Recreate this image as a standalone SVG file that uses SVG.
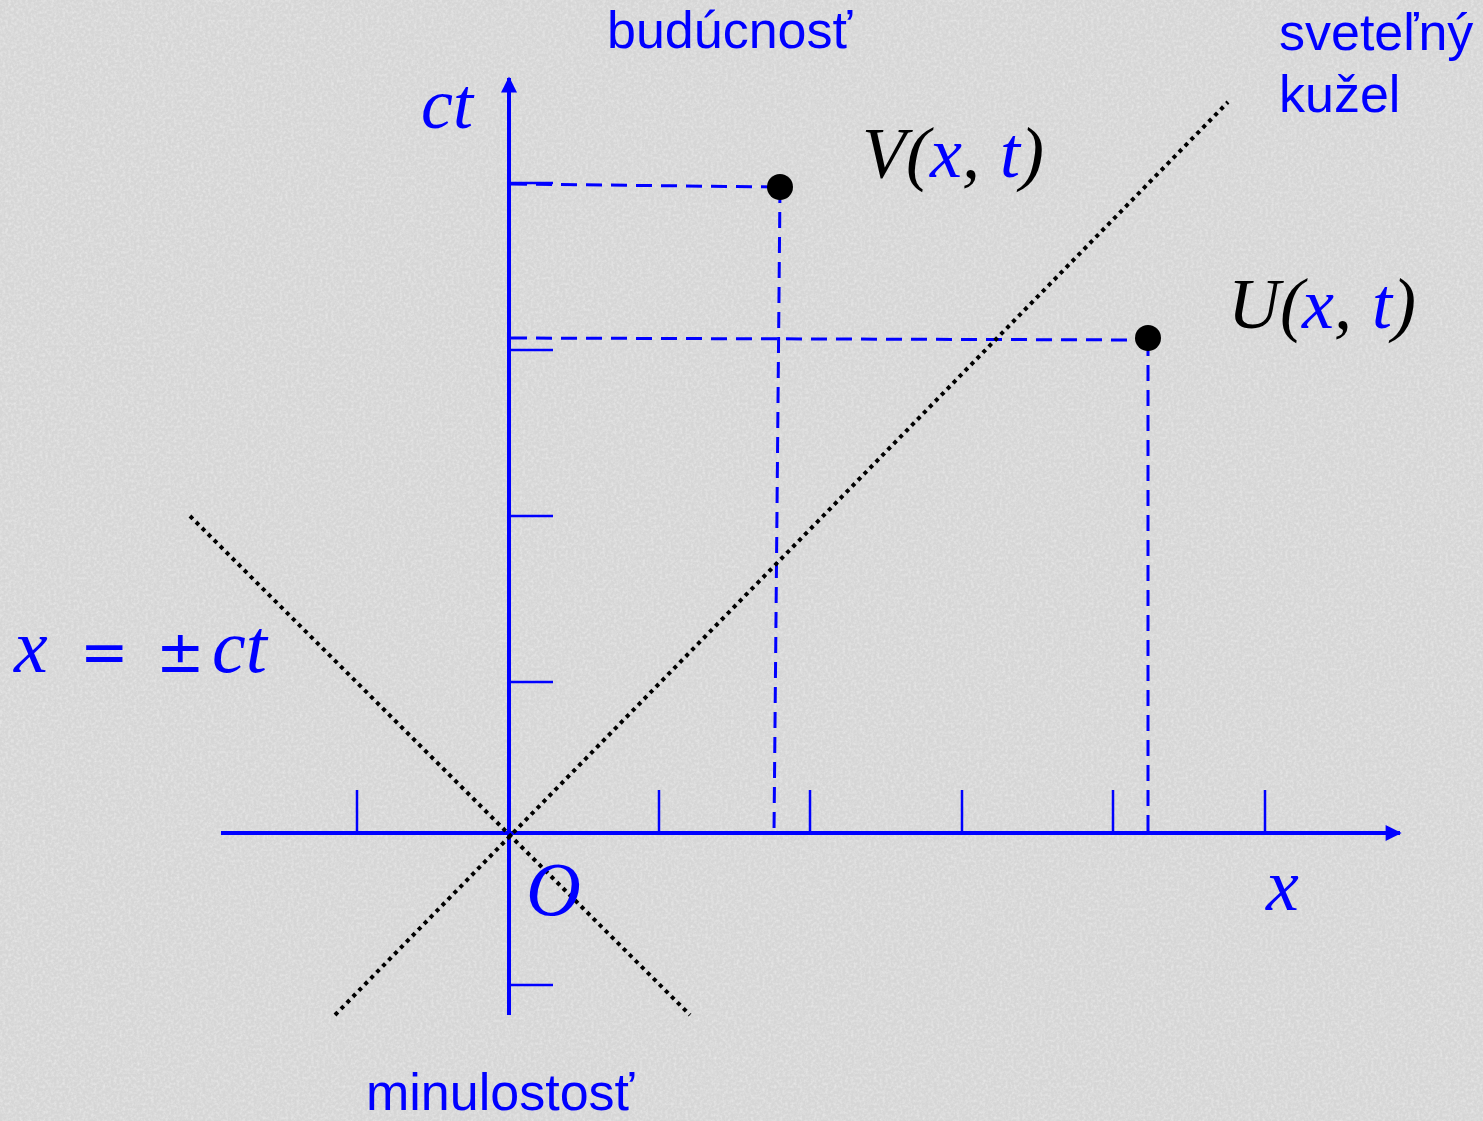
<svg xmlns="http://www.w3.org/2000/svg" width="1483" height="1121" viewBox="0 0 1483 1121">
<defs>
<style>
.ax{stroke:#0000ff;stroke-width:4;fill:none}
.tk{stroke:#0000ff;stroke-width:2.5;fill:none}
.ds{stroke:#0000ff;stroke-width:3;stroke-dasharray:16,9;fill:none}
.dt{stroke:#000;stroke-width:4;stroke-dasharray:4,4.5;fill:none}
.lbl{font-family:"Liberation Sans",Arial,sans-serif;font-size:52px;fill:#0000ff}
.m{font-family:"Liberation Serif","Times New Roman",serif;font-style:italic;fill:#0000ff}
.s{font-family:"DejaVu Sans",sans-serif;font-style:normal}
.k{fill:#000}
</style>
<filter id="noise" x="0" y="0" width="100%" height="100%">
<feTurbulence type="fractalNoise" baseFrequency="0.35" numOctaves="3" seed="4"/>
<feColorMatrix type="matrix" values="0 0 0 0 1  0 0 0 0 1  0 0 0 0 1  1.2 0 0 0 -0.45"/>
</filter>
<marker id="ah" viewBox="0 0 10 10" refX="9" refY="5" markerWidth="4.5" markerHeight="4" orient="auto" markerUnits="strokeWidth">
<path d="M0,0 L10,5 L0,10 Z" fill="#0000ff"/>
</marker>
</defs>
<rect width="1483" height="1121" fill="#d6d6d6"/>
<rect width="1483" height="1121" filter="url(#noise)" opacity="0.6"/>
<g id="connectors">
<line id="x-axis" class="ax" x1="221" y1="833" x2="1400" y2="833" marker-end="url(#ah)"/>
<line id="ct-axis" class="ax" x1="509" y1="1015" x2="509" y2="78" marker-end="url(#ah)"/>
<g id="x-ticks" class="tk">
<line x1="357" y1="790" x2="357" y2="833"/>
<line x1="659" y1="790" x2="659" y2="833"/>
<line x1="810" y1="790" x2="810" y2="833"/>
<line x1="962" y1="790" x2="962" y2="833"/>
<line x1="1113" y1="790" x2="1113" y2="833"/>
<line x1="1265" y1="790" x2="1265" y2="833"/>
</g>
<g id="ct-ticks" class="tk">
<line x1="509" y1="183" x2="553" y2="183"/>
<line x1="509" y1="350" x2="553" y2="350"/>
<line x1="509" y1="516" x2="553" y2="516"/>
<line x1="509" y1="682" x2="553" y2="682"/>
<line x1="509" y1="985" x2="553" y2="985"/>
</g>
<line class="ds" x1="511" y1="184" x2="780" y2="187"/>
<line class="ds" x1="780" y1="187" x2="774" y2="833"/>
<line class="ds" x1="511" y1="338" x2="1148" y2="340"/>
<line class="ds" x1="1148" y1="340" x2="1148" y2="833"/>
<line id="cone1" class="dt" x1="335" y1="1015" x2="1228" y2="102"/>
<line id="cone2" class="dt" x1="190" y1="516" x2="690" y2="1015"/>
</g>
<g id="V"><circle cx="780" cy="187" r="13" fill="#000"/>
<text y="177" class="m" font-size="72"><tspan x="862" class="k">V(</tspan><tspan x="930">x</tspan><tspan class="k">,</tspan><tspan x="1000">t</tspan><tspan class="k">)</tspan></text></g>
<g id="U"><circle cx="1148" cy="338" r="13" fill="#000"/>
<text y="328" class="m" font-size="72"><tspan x="1228" class="k">U(</tspan><tspan x="1302">x</tspan><tspan class="k">,</tspan><tspan x="1372">t</tspan><tspan class="k">)</tspan></text></g>
<g id="label-ct"><text x="421" y="128" class="m" font-size="72">ct</text></g>
<g id="label-O"><text x="526" y="915" class="m" font-size="76">O</text></g>
<g id="label-x"><text x="1266" y="910" class="m" font-size="74">x</text></g>
<g id="label-eq"><text y="672" class="m" font-size="76"><tspan x="14">x</tspan><tspan x="80" class="s" font-size="58">=</tspan><tspan x="156" class="s" font-size="58">±</tspan><tspan x="212">ct</tspan></text></g>
<g id="label-future"><text x="607" y="48" class="lbl">budúcnosť</text></g>
<g id="label-cone"><text x="1279" y="50" class="lbl">sveteľný</text><text x="1279" y="112" class="lbl">kužel</text></g>
<g id="label-past"><text x="366" y="1110" class="lbl" font-size="51">minulostosť</text></g>
</svg>
